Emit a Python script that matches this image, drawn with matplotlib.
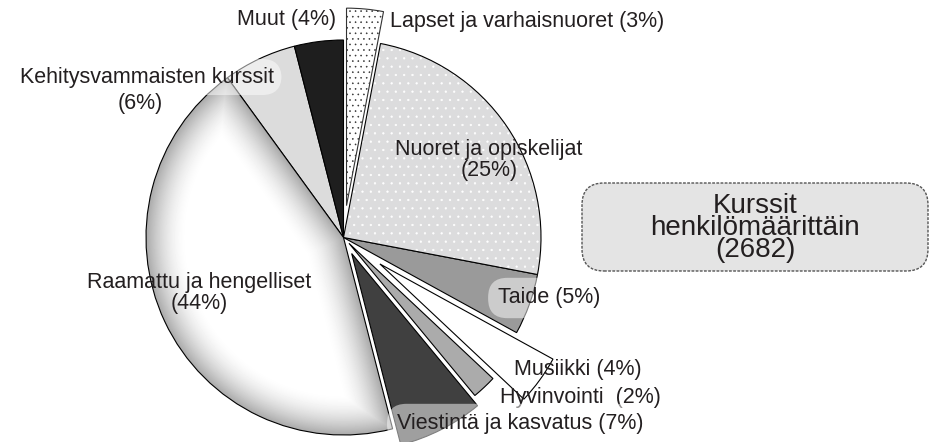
import numpy as np
import matplotlib
matplotlib.use('Agg')
import matplotlib.pyplot as plt
from matplotlib.patches import Wedge, FancyBboxPatch

plt.rcParams['font.family'] = ['Liberation Sans', 'DejaVu Sans']
plt.rcParams['hatch.linewidth'] = 0.4

# data, clockwise from 12 o'clock
categories = ['Lapset ja varhaisnuoret', 'Nuoret ja opiskelijat', 'Taide', 'Musiikki',
              'Hyvinvointi', 'Viestintä ja kasvatus', 'Raamattu ja hengelliset',
              'Kehitysvammaisten kurssit', 'Muut']
shares = [3, 25, 5, 4, 2, 7, 44, 6, 4]
total_people = 2682

colors = ['white', '#dcdcdd', '#9a9a9a', 'white', '#ababab', '#404040', 'white', '#dcdcdc', '#1e1e1e']
explode = [32, 0, 0, 45, 8, 18, 0, 0, 0]
txt_col = '#231f20'

fig = plt.figure(figsize=(9.47, 4.42), dpi=100)
ax = fig.add_axes([0, 0, 1, 1])

cx, cy, R = 343.5, 204.5, 197.5
wedges, _ = ax.pie(shares, explode=explode, colors=colors, radius=R, center=(cx, cy),
                   startangle=90, counterclock=False,
                   wedgeprops=dict(edgecolor='black', linewidth=0.8))
ax.set_xlim(0, 947)
ax.set_ylim(0, 442)
ax.axis('off')

# dotted fills
wedges[0].set_hatch('...')
wedges[0].set_edgecolor('#333333')
w1 = wedges[1]
ax.add_patch(Wedge(w1.center, w1.r, w1.theta1, w1.theta2, facecolor=colors[1],
                   linewidth=0, zorder=1.1))
ax.add_patch(Wedge(w1.center, w1.r, w1.theta1, w1.theta2, facecolor='none',
                   edgecolor='white', linewidth=0, hatch='..', zorder=1.2))
w1.set_zorder(1.3)
w1.set_facecolor('none')

# shaded fill for the big slice (light centre, grey towards the edges)
w6 = wedges[6]
yy, xx = np.mgrid[0:442, 0:947] + 0.5
dx, dy = xx - w6.center[0], yy - w6.center[1]
r = np.hypot(dx, dy)
ang = np.degrees(np.arctan2(dy, dx))
dist = w6.r - r
for t in (w6.theta1, w6.theta2):
    d = (ang - t + 180) % 360 - 180
    dl = np.where(np.abs(d) < 90, r * np.abs(np.sin(np.radians(d))), r)
    dist = np.minimum(dist, dl)
s = np.clip(dist / 42.0, 0, 1)
shade = 1 - 0.34 * (1 - s) ** 1.8
im = ax.imshow(shade, extent=(0, 947, 0, 442), origin='lower', cmap='gray',
               vmin=0, vmax=1, zorder=1.5, interpolation='bilinear')
im.set_clip_path(w6)
w6.set_facecolor('none')
w6.set_zorder(2)
ax.set_xlim(0, 947)
ax.set_ylim(0, 442)

fs = 15.5
box = dict(boxstyle='round,pad=0.45,rounding_size=0.9', facecolor='white',
           edgecolor='none', alpha=0.5)

ax.text(287, 422, f'{categories[8]} ({shares[8]}%)', ha='center', va='center', fontsize=fs, color=txt_col, zorder=5)
ax.text(390, 420, f'{categories[0]} ({shares[0]}%)', ha='left', va='center', fontsize=fs, color=txt_col, zorder=5)
ax.text(147, 365, categories[7], ha='center', va='center', fontsize=fs, color=txt_col, zorder=5,
        bbox=dict(boxstyle='round,pad=0.35,rounding_size=0.9', facecolor='white', edgecolor='none', alpha=0.5))
ax.text(140, 338, f'({shares[7]}%)', ha='center', va='center', fontsize=fs, color=txt_col, zorder=5)
ax.text(489, 282, f'{categories[1]}\n({shares[1]}%)', ha='center', va='center', fontsize=fs,
        color=txt_col, linespacing=1.0, zorder=5)
ax.text(549, 144, f'{categories[2]} ({shares[2]}%)', ha='center', va='center', fontsize=fs,
        color=txt_col, zorder=5, bbox=box)
ax.text(578, 72, f'{categories[3]} ({shares[3]}%)', ha='center', va='center', fontsize=fs, color=txt_col, zorder=5)
ax.text(580, 45, f'{categories[4]}  ({shares[4]}%)', ha='center', va='center', fontsize=fs, color=txt_col, zorder=5)
ax.text(520, 18, f'{categories[5]} ({shares[5]}%)', ha='center', va='center', fontsize=fs,
        color=txt_col, zorder=5, bbox=box)
ax.text(199, 149, f'{categories[6]}\n({shares[6]}%)', ha='center', va='center', fontsize=fs,
        color=txt_col, linespacing=1.0, zorder=5)

# title box
tb = FancyBboxPatch((600, 189), 310, 52, boxstyle='round,pad=18,rounding_size=22',
                    facecolor='#e4e4e4', edgecolor='#555555', linewidth=1.0,
                    linestyle=(0, (2, 1)), zorder=3)
ax.add_patch(tb)
ax.text(755, 214, f'Kurssit\nhenkilömäärittäin\n({total_people})', ha='center', va='center',
        fontsize=20, color=txt_col, linespacing=0.8, zorder=5)

fig.savefig('out.png', dpi=100)
